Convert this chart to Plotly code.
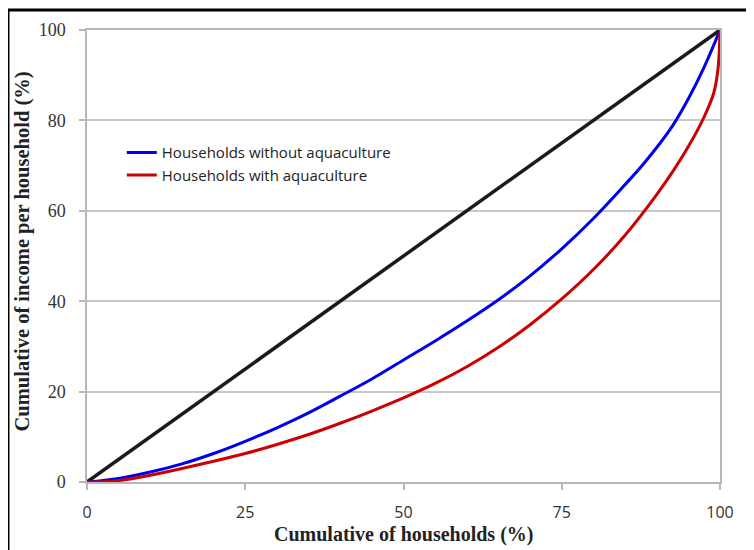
import plotly.graph_objects as go

# Data
equality_x = [0, 100]
equality_y = [0, 100]

without_x = [0, 5, 10, 15, 20, 25, 30, 35, 40, 45, 50, 55, 60, 65, 70, 75, 80, 85, 87.5, 90, 92.5, 95, 97.5, 100]
without_y = [0, 0.8, 2.2, 4.0, 6.3, 9.0, 12.0, 15.3, 19.0, 22.8, 27.0, 31.2, 35.6, 40.3, 45.6, 51.6, 58.3, 65.8, 69.7, 74.0, 78.8, 84.8, 91.8, 100]

with_x = [0, 5, 10, 15, 20, 25, 30, 35, 40, 45, 50, 55, 60, 65, 70, 75, 80, 85, 90, 92.5, 95, 97.5, 99, 99.7, 100]
with_y = [0, 0.3, 1.5, 3.0, 4.6, 6.3, 8.3, 10.5, 13.0, 15.7, 18.6, 21.8, 25.5, 29.8, 34.8, 40.5, 47.0, 54.6, 63.6, 68.6, 74.2, 80.8, 86.0, 91.6, 100]

x_ticks = [0, 25, 50, 75, 100]
y_ticks = [0, 20, 40, 60, 80, 100]

fig = go.Figure()
fig.add_trace(go.Scatter(x=equality_x, y=equality_y, mode="lines",
                         line=dict(color="#1a1a1a", width=3.5), showlegend=False))
fig.add_trace(go.Scatter(x=without_x, y=without_y, mode="lines", line_shape="spline",
                         name="Households without aquaculture",
                         line=dict(color="#0000ee", width=3)))
fig.add_trace(go.Scatter(x=with_x, y=with_y, mode="lines", line_shape="spline",
                         name="Households with aquaculture",
                         line=dict(color="#cc0000", width=3)))

axis_col = "#b8b8b8"
serif = "Liberation Serif, DejaVu Serif, serif"
sans = "Open Sans, Liberation Sans, sans-serif"

fig.update_layout(
    width=746, height=542,
    margin=dict(l=79, r=34, t=22, b=68),
    paper_bgcolor="white", plot_bgcolor="white",
    legend=dict(x=0.055, y=0.765, xanchor="left", yanchor="top",
                bgcolor="rgba(0,0,0,0)", itemwidth=30, tracegroupgap=0,
                font=dict(family=sans, size=15, color="#222")),
    xaxis=dict(range=[0, 100], tickvals=x_ticks, ticktext=[str(v) for v in x_ticks],
               showgrid=False, zeroline=False,
               showline=True, linecolor=axis_col, linewidth=1.5, mirror=True,
               ticks="outside", ticklen=6, tickcolor=axis_col, tickwidth=1.5,
               ticklabelstandoff=9,
               tickfont=dict(family=sans, size=16, color="#333")),
    yaxis=dict(range=[0, 100], tickvals=y_ticks, ticktext=[str(v) for v in y_ticks],
               showgrid=True, gridcolor="#c8c8c8", gridwidth=1.5, zeroline=False,
               showline=True, linecolor=axis_col, linewidth=1.5, mirror=True,
               ticks="outside", ticklen=6, tickcolor=axis_col, tickwidth=1.5,
               ticklabelstandoff=10,
               tickfont=dict(family=serif, size=18, color="#333")),
    annotations=[
        dict(text="<b>Cumulative of households (%)</b>", xref="paper", yref="paper",
             x=0.5, y=-0.117, xanchor="center", yanchor="middle", showarrow=False,
             font=dict(family=serif, size=20, color="#222")),
        dict(text="<b>Cumulative of income per household (%)</b>", xref="paper", yref="paper",
             x=-0.1027, y=0.51, xanchor="center", yanchor="middle", showarrow=False, textangle=-90,
             font=dict(family=serif, size=20.5, color="#222")),
    ],
    shapes=[
        dict(type="rect", xref="paper", yref="paper",
             x0=-0.1248, x1=1.08, y0=-0.19, y1=1.0442,
             line=dict(color="black", width=3), fillcolor="rgba(0,0,0,0)", layer="below"),
    ],
)

fig.write_html("out.html")
